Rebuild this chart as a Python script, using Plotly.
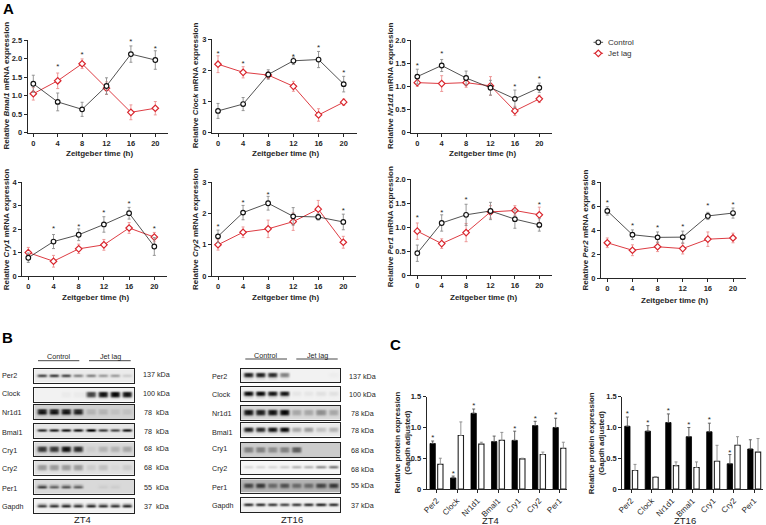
import plotly.graph_objects as go

W, H = 766, 525
FONT = "Liberation Sans"
INK = "#262626"
RED = "#d9262e"

# ---------- data: mRNA time courses ----------
zt = [0, 4, 8, 12, 16, 20]
zt_labels = ["0", "4", "8", "12", "16", "20"]

bmal1_ctrl = [1.32, 0.83, 0.63, 1.26, 2.12, 1.96]
bmal1_ctrl_err = [0.23, 0.24, 0.19, 0.22, 0.22, 0.25]
bmal1_jet = [1.05, 1.40, 1.86, 1.20, 0.55, 0.66]
bmal1_jet_err = [0.17, 0.21, 0.13, 0.17, 0.20, 0.18]
bmal1_star_x = [4, 8, 16, 20]
bmal1_star_y = [1.83, 2.15, 2.50, 2.30]

clock_ctrl = [0.70, 0.92, 1.87, 2.31, 2.35, 1.56]
clock_ctrl_err = [0.24, 0.21, 0.15, 0.12, 0.26, 0.25]
clock_jet = [2.20, 1.94, 1.85, 1.49, 0.57, 0.98]
clock_jet_err = [0.27, 0.18, 0.10, 0.16, 0.20, 0.10]
clock_star_x = [0, 4, 12, 16, 20]
clock_star_y = [2.58, 2.26, 2.50, 2.79, 1.96]

nr1d1_ctrl = [1.21, 1.45, 1.18, 0.97, 0.73, 0.97]
nr1d1_ctrl_err = [0.16, 0.13, 0.15, 0.16, 0.19, 0.10]
nr1d1_jet = [1.08, 1.06, 1.08, 1.01, 0.47, 0.73]
nr1d1_jet_err = [0.08, 0.17, 0.10, 0.20, 0.10, 0.08]
nr1d1_star_x = [0, 4, 16, 20]
nr1d1_star_y = [1.47, 1.73, 1.03, 1.19]

cry1_ctrl = [0.78, 1.47, 1.76, 2.20, 2.68, 1.26]
cry1_ctrl_err = [0.20, 0.30, 0.25, 0.33, 0.25, 0.38]
cry1_jet = [1.00, 0.63, 1.16, 1.33, 2.05, 1.66]
cry1_jet_err = [0.22, 0.25, 0.20, 0.23, 0.23, 0.20]
cry1_star_x = [4, 8, 12, 16, 20]
cry1_star_y = [2.08, 2.18, 2.75, 3.15, 2.08]

cry2_ctrl = [1.27, 2.03, 2.33, 1.91, 1.89, 1.73]
cry2_ctrl_err = [0.20, 0.23, 0.22, 0.28, 0.10, 0.25]
cry2_jet = [1.00, 1.40, 1.51, 1.74, 2.14, 1.08]
cry2_jet_err = [0.17, 0.17, 0.28, 0.28, 0.28, 0.19]
cry2_star_x = [0, 4, 8, 20]
cry2_star_y = [1.63, 2.38, 2.66, 2.15]

per1_ctrl = [0.46, 1.09, 1.26, 1.34, 1.17, 1.05]
per1_ctrl_err = [0.17, 0.17, 0.22, 0.18, 0.19, 0.13]
per1_jet = [0.92, 0.66, 0.89, 1.32, 1.35, 1.26]
per1_jet_err = [0.17, 0.10, 0.19, 0.13, 0.10, 0.16]
per1_star_x = [0, 4, 8, 20]
per1_star_y = [1.24, 1.33, 1.60, 1.51]

per2_ctrl = [5.60, 3.62, 3.40, 3.42, 5.18, 5.42]
per2_ctrl_err = [0.35, 0.40, 0.45, 0.50, 0.30, 0.42]
per2_jet = [2.95, 2.33, 2.62, 2.47, 3.25, 3.35]
per2_jet_err = [0.40, 0.45, 0.40, 0.45, 0.60, 0.40]
per2_star_x = [0, 4, 8, 12, 16, 20]
per2_star_y = [6.40, 4.50, 4.30, 4.40, 6.15, 6.23]

# ---------- data: protein bars ----------
proteins = ["Per2", "Clock", "Nr1d1", "Bmal1", "Cry1", "Cry2", "Per1"]

zt4_ctrl = [0.74, 0.18, 1.23, 0.77, 0.79, 1.03, 1.00]
zt4_ctrl_err = [0.04, 0.03, 0.07, 0.09, 0.15, 0.07, 0.15]
zt4_jet = [0.40, 0.87, 0.73, 0.79, 0.49, 0.56, 0.66]
zt4_jet_err = [0.10, 0.22, 0.03, 0.13, 0.01, 0.04, 0.10]
zt4_star_x = ["Per2", "Clock", "Nr1d1", "Cry1", "Cry2", "Per1"]
zt4_star_y = [0.85, 0.28, 1.38, 1.00, 1.17, 1.23]

zt16_ctrl = [1.02, 0.94, 1.08, 0.85, 0.93, 0.41, 0.65]
zt16_ctrl_err = [0.15, 0.09, 0.14, 0.15, 0.14, 0.15, 0.15]
zt16_jet = [0.30, 0.19, 0.38, 0.35, 0.45, 0.71, 0.60]
zt16_jet_err = [0.10, 0.01, 0.06, 0.09, 0.26, 0.14, 0.22]
zt16_star_x = ["Per2", "Clock", "Nr1d1", "Bmal1", "Cry1", "Cry2"]
zt16_star_y = [1.24, 1.10, 1.30, 1.07, 1.15, 0.62]

# ---------- data: western blots (band darkness per lane, background darkness) ----------
blot_names = ["Per2", "Clock", "Nr1d1", "Bmal1", "Cry1", "Cry2", "Per1", "Gapdh"]
kda_zt4 = ["137 kDa", "100 kDa", "78  kDa", "78  kDa", "68  kDa", "68  kDa", "55  kDa", "37  kDa"]
kda_zt16 = ["137 kDa", "100 kDa", "78 kDa", "78 kDa", "68 kDa", "68 kDa", "55 kDa", "37 kDa"]

zt4_per2 = [0.75, 0.80, 0.75, 0.50, 0.50, 0.40, 0.40, 0.20]
zt4_clock = [0.05, 0.05, 0.08, 0.08, 0.75, 0.95, 1.00, 0.95]
zt4_nr1d1 = [0.95, 0.95, 0.95, 0.90, 0.30, 0.30, 0.25, 0.25]
zt4_bmal1 = [0.80, 0.85, 0.90, 0.90, 1.00, 0.75, 0.70, 0.90]
zt4_cry1 = [0.80, 0.80, 0.95, 0.85, 0.20, 0.30, 0.30, 0.35]
zt4_cry2 = [0.40, 0.40, 0.40, 0.40, 0.20, 0.25, 0.15, 0.20]
zt4_per1 = [0.80, 0.65, 0.70, 0.65, 0.10, 0.20, 0.20, 0.02]
zt4_gapdh = [0.80, 0.85, 0.90, 0.85, 0.90, 0.85, 0.85, 0.90]
zt4_bg = [0.08, 0.05, 0.18, 0.10, 0.15, 0.12, 0.15, 0.05]

zt16_per2 = [0.90, 0.90, 0.85, 0.50, 0.05, 0.05, 0.05, 0.07]
zt16_clock = [1.00, 1.00, 0.95, 0.95, 0.10, 0.10, 0.12, 0.12]
zt16_nr1d1 = [0.95, 0.90, 0.95, 1.00, 0.35, 0.35, 0.45, 0.35]
zt16_bmal1 = [0.90, 0.85, 0.95, 1.00, 0.35, 0.40, 0.25, 0.30]
zt16_cry1 = [0.50, 0.50, 0.45, 0.50, 0.65, 0.20, 0.20, 0.20]
zt16_cry2 = [0.15, 0.15, 0.15, 0.20, 0.30, 0.30, 0.45, 0.55]
zt16_per1 = [0.75, 0.80, 0.60, 0.70, 0.60, 0.60, 0.75, 0.80]
zt16_gapdh = [0.85, 0.85, 0.80, 0.75, 0.80, 0.85, 0.90, 0.85]
zt16_bg = [0.05, 0.05, 0.15, 0.08, 0.20, 0.03, 0.30, 0.05]

# ---------- layout geometry (pixels) ----------
layout = dict(
    template="none",
    width=W, height=H, autosize=False, showlegend=False,
    margin=dict(l=0, r=0, t=0, b=0, pad=0, autoexpand=False),
    paper_bgcolor="white", plot_bgcolor="rgba(0,0,0,0)",
    barmode="group", bargap=0.252, bargroupgap=0.305,
    font=dict(family=FONT, color=INK, size=8),
)
annotations = []
traces = []
shapes = []
ax_id = [0]


def px(x, y):
    return x / W, 1 - y / H


def note(text, x, y, size=8, bold=False, angle=0, xanchor="center", color=INK):
    if bold:
        text = "<b>" + text.replace("<br>", "</b><br><b>") + "</b>"
    xp, yp = px(x, y)
    annotations.append(dict(
        text=text, x=xp, y=yp, xref="paper", yref="paper", showarrow=False,
        xanchor=xanchor, yanchor="middle", textangle=angle, borderpad=0, borderwidth=0,
        font=dict(family=FONT, size=size, color=color), align="center",
    ))


def new_axes(x0, x1, y_top, y_bottom, xaxis, yaxis):
    ax_id[0] += 1
    n = ax_id[0]
    xname = "xaxis" if n == 1 else f"xaxis{n}"
    yname = "yaxis" if n == 1 else f"yaxis{n}"
    xaxis = dict(xaxis, domain=[x0 / W, x1 / W], anchor="y" if n == 1 else f"y{n}", automargin=False)
    yaxis = dict(yaxis, domain=[1 - y_bottom / H, 1 - y_top / H], anchor="x" if n == 1 else f"x{n}", automargin=False)
    layout[xname] = xaxis
    layout[yname] = yaxis
    return ("x" if n == 1 else f"x{n}"), ("y" if n == 1 else f"y{n}")


AXIS = dict(showgrid=False, zeroline=False, showline=True, linecolor=INK, linewidth=1.1,
            ticks="outside", ticklen=3, tickwidth=1, tickcolor=INK,
            tickfont=dict(family=FONT, size=7.5, color=INK))


def bold_labels(labels):
    return [f"<b>{t}</b>" for t in labels]


def line_panel(ctrl, ctrl_err, jet, jet_err, star_x, star_y, gene, ymax, yticks, ylabels,
               ax_x, ax_end, tick0, tick20, y_zero, y_top, title_pos, ytitle_pos):
    per_h = (tick20 - tick0) / 20
    xr = [(ax_x - tick0) / per_h, (ax_end - tick0) / per_h]
    xa, ya = new_axes(
        ax_x, ax_end, y_top, y_zero,
        dict(AXIS, range=xr, tickvals=zt, ticktext=bold_labels(zt_labels)),
        dict(AXIS, range=[0, ymax], tickvals=yticks, ticktext=bold_labels(ylabels)),
    )
    traces.append(go.Scatter(
        x=zt, y=jet, mode="lines+markers", name="Jet lag", xaxis=xa, yaxis=ya, cliponaxis=False,
        line=dict(color=RED, width=0.9),
        marker=dict(symbol="diamond", size=5, color="white", line=dict(color=RED, width=1.2)),
        error_y=dict(type="data", array=jet_err, visible=True, color="#ec8f8f", thickness=0.9, width=1.5),
    ))
    traces.append(go.Scatter(
        x=zt, y=ctrl, mode="lines+markers", name="Control", xaxis=xa, yaxis=ya, cliponaxis=False,
        line=dict(color=INK, width=0.8),
        marker=dict(symbol="circle", size=4.6, color="white", line=dict(color="#111111", width=1.2)),
        error_y=dict(type="data", array=ctrl_err, visible=True, color="#8c8c8c", thickness=0.9, width=1.5),
    ))
    star_drop = 1.8 * ymax / (y_zero - y_top)  # the glyph sits high in its line box
    traces.append(go.Scatter(
        x=star_x, y=[v - star_drop for v in star_y], mode="text", text=["*"] * len(star_x),
        xaxis=xa, yaxis=ya, cliponaxis=False,
        textposition="middle center", textfont=dict(family=FONT, size=8, color=INK), name="",
    ))
    note(f"Relative <i>{gene}</i> mRNA expression", ytitle_pos[0], ytitle_pos[1], size=8, bold=True, angle=-90)
    note("Zeitgeber time (h)", title_pos[0], title_pos[1], size=8, bold=True)


line_panel(bmal1_ctrl, bmal1_ctrl_err, bmal1_jet, bmal1_jet_err, bmal1_star_x, bmal1_star_y, "Bmal1",
           2.5, [0, 0.5, 1, 1.5, 2, 2.5], ["0", "0.5", "1.0", "1.5", "2.0", "2.5"],
           27.7, 167.7, 33.3, 155.3, 132.7, 40, (99.3, 153.3), (5.5, 86))
line_panel(clock_ctrl, clock_ctrl_err, clock_jet, clock_jet_err, clock_star_x, clock_star_y, "Clock",
           3, [0, 1, 2, 3], ["0", "1", "2", "3"],
           212, 356.7, 218, 343.7, 132.7, 39.3, (285, 153.3), (195.7, 85.5))
line_panel(nr1d1_ctrl, nr1d1_ctrl_err, nr1d1_jet, nr1d1_jet_err, nr1d1_star_x, nr1d1_star_y, "Nr1d1",
           2, [0, 0.5, 1, 1.5, 2], ["0", "0.5", "1.0", "1.5", "2.0"],
           411.3, 551.7, 417.3, 539.3, 132.7, 40, (482.7, 153.3), (390, 86))
line_panel(cry1_ctrl, cry1_ctrl_err, cry1_jet, cry1_jet_err, cry1_star_x, cry1_star_y, "Cry1",
           4, [0, 1, 2, 3, 4], ["0", "1", "2", "3", "4"],
           22.3, 166.7, 28.3, 154.3, 276, 182.3, (96, 297.3), (6, 229.3))
line_panel(cry2_ctrl, cry2_ctrl_err, cry2_jet, cry2_jet_err, cry2_star_x, cry2_star_y, "Cry2",
           3, [0, 1, 2, 3], ["0", "1", "2", "3"],
           212, 356, 218, 343.3, 276, 182.3, (285, 297.3), (195.7, 229.3))
line_panel(per1_ctrl, per1_ctrl_err, per1_jet, per1_jet_err, per1_star_x, per1_star_y, "Per1",
           2, [0, 0.5, 1, 1.5, 2], ["0", "0.5", "1.0", "1.5", "2.0"],
           411.3, 551.7, 417.3, 539.3, 275.3, 179.3, (483.3, 297), (390, 227.3))
line_panel(per2_ctrl, per2_ctrl_err, per2_jet, per2_jet_err, per2_star_x, per2_star_y, "Per2",
           8, [0, 2, 4, 6, 8], ["0", "2", "4", "6", "8"],
           601, 745.7, 607.3, 733, 278.3, 182, (674.7, 300), (585.3, 230.3))


# ---------- legend ----------
def legend_row(name, symbol, color, y, size, lw, line_w):
    xa, ya = new_axes(593.3, 603.3, y - 4, y + 4,
                      dict(visible=False, range=[-1, 1]), dict(visible=False, range=[-1, 1]))
    traces.append(go.Scatter(
        x=[-1, 0, 1], y=[0, 0, 0], mode="lines", xaxis=xa, yaxis=ya, name=name, cliponaxis=False,
        line=dict(color=color, width=line_w),
    ))
    traces.append(go.Scatter(
        x=[0], y=[0], mode="markers", xaxis=xa, yaxis=ya, name=name, cliponaxis=False,
        marker=dict(symbol=symbol, size=size, color="white", line=dict(color=color, width=lw)),
    ))
    note(name, 608, y, size=8, xanchor="left", color="#333333")


legend_row("Control", "circle", INK, 42.3, 4.6, 1.2, 0.8)
legend_row("Jet lag", "diamond", RED, 53.3, 5, 1.2, 0.9)


# ---------- bars ----------
def bar_panel(ctrl, ctrl_err, jet, jet_err, star_x, star_y, title, ax_x, ax_end, first_center,
              ytitle_x, title_x):
    spacing = 20.5
    xr = [(ax_x - first_center) / spacing, (ax_end - first_center) / spacing]
    xa, ya = new_axes(
        ax_x, ax_end, 396.7, 489,
        dict(AXIS, type="category", categoryorder="array", categoryarray=proteins, range=xr,
             tickangle=-45, tickvals=proteins, ticktext=proteins,
             tickfont=dict(family=FONT, size=8, color=INK)),
        dict(AXIS, range=[0, 1.5], tickvals=[0, 0.5, 1, 1.5], ticktext=bold_labels(["0", "0.5", "1.0", "1.5"])),
    )
    traces.append(go.Bar(
        x=proteins, y=ctrl, xaxis=xa, yaxis=ya, name="Control", cliponaxis=False,
        marker=dict(color="#000000", line=dict(color="#000000", width=0.8)),
        error_y=dict(type="data", array=ctrl_err, arrayminus=[0] * 7, symmetric=False, visible=True,
                     color="#555555", thickness=0.9, width=1.5),
    ))
    traces.append(go.Bar(
        x=proteins, y=jet, xaxis=xa, yaxis=ya, name="Jet lag", cliponaxis=False,
        marker=dict(color="#ffffff", line=dict(color="#222222", width=1.1)),
        error_y=dict(type="data", array=jet_err, arrayminus=[0] * 7, symmetric=False, visible=True,
                     color="#888888", thickness=0.9, width=1.5),
    ))
    star_drop = 1.8 * 1.5 / (489 - 396.7)
    traces.append(go.Scatter(
        x=star_x, y=[v - star_drop for v in star_y], mode="text", text=["*\u00a0"] * len(star_x),
        xaxis=xa, yaxis=ya, cliponaxis=False,
        textposition="middle left", textfont=dict(family=FONT, size=8, color=INK), name="",
    ))
    note("Relative protein expression<br>(Gapdh adjusted)", ytitle_x, 443, size=7.8, bold=True, angle=-90)
    note(title, title_x, 520, size=9.5, color="#222222")


bar_panel(zt4_ctrl, zt4_ctrl_err, zt4_jet, zt4_jet_err, zt4_star_x, zt4_star_y, "ZT4",
          426.7, 566.7, 436.5, 401.5, 490)
bar_panel(zt16_ctrl, zt16_ctrl_err, zt16_jet, zt16_jet_err, zt16_star_x, zt16_star_y, "ZT16",
          622.3, 763.3, 631.2, 596.2, 685)

# ---------- blots ----------
THIN = [0, 0, 0, 0, 0.3, 1, 1, 0.3, 0, 0, 0, 0, 0]
THICK = [0, 0, 0, 0.3, 0.9, 1, 1, 0.8, 0.3, 0.1, 0, 0, 0]
LANE_COLS = [0.05, 0.9, 1, 0.9]


def blot(lanes, bg, thick, x0, x1, y_top, y_bottom):
    profile = THICK if thick else THIN
    z = []
    for p in profile:
        row = []
        for v in lanes:
            for c in LANE_COLS:
                row.append(bg + max(v - bg, 0) * p * c)
        row.append(bg)
        z.append(row)
    xa, ya = new_axes(
        x0, x1, y_top, y_bottom,
        dict(showgrid=False, zeroline=False, showline=True, mirror=True, linecolor="#222222", linewidth=1.2,
             ticks="", showticklabels=False),
        dict(showgrid=False, zeroline=False, showline=True, mirror=True, linecolor="#222222", linewidth=1.2,
             ticks="", showticklabels=False, autorange="reversed"),
    )
    traces.append(go.Heatmap(
        z=z, xaxis=xa, yaxis=ya, zmin=0, zmax=1, showscale=False, zsmooth="best",
        colorscale=[[0, "#ffffff"], [1, "#000000"]], hoverinfo="skip",
    ))


zt4_rows = [zt4_per2, zt4_clock, zt4_nr1d1, zt4_bmal1, zt4_cry1, zt4_cry2, zt4_per1, zt4_gapdh]
zt16_rows = [zt16_per2, zt16_clock, zt16_nr1d1, zt16_bmal1, zt16_cry1, zt16_cry2, zt16_per1, zt16_gapdh]
zt4_thick = [False, True, True, False, True, True, False, False]
zt16_thick = [True, True, True, True, True, False, True, False]

zt4_frames = [(133, 173), (188, 230), (240, 283), (297, 338), (352, 394), (407, 449), (464, 507), (521, 564)]
zt16_frames = [(131, 172), (187, 228), (242, 284), (295, 335), (354, 396), (407, 448), (463, 503), (520, 561)]
zt4_label_y = [151, 204, 262, 323, 377, 431, 489, 544]
zt4_kda_y = [149, 206, 263, 318, 371, 427, 488, 544]
zt16_label_y = [155, 207, 264, 323, 371, 430, 488, 541]
zt16_kda_y = [155, 208, 266, 317, 375, 432, 482, 542]

for i, name in enumerate(blot_names):
    t, b = zt4_frames[i]
    blot(zt4_rows[i], zt4_bg[i], zt4_thick[i], 34.3, 134.3, 325 + t / 3, 325 + b / 3)
    note(name, 2, 325 + zt4_label_y[i] / 3, size=7.2, xanchor="left")
    note(kda_zt4[i], 156, 325 + zt4_kda_y[i] / 3, size=7.2)
    t, b = zt16_frames[i]
    blot(zt16_rows[i], zt16_bg[i], zt16_thick[i], 240.7, 340.3, 325 + t / 3, 325 + b / 3)
    note(name, 211.7, 325 + zt16_label_y[i] / 3, size=7.2, xanchor="left")
    note(kda_zt16[i], 362.7, 325 + zt16_kda_y[i] / 3, size=7.2)

note("Control", 59, 356, size=7.2)
note("Jet lag", 110, 356, size=7.2)
note("Control", 265.7, 355, size=7.2)
note("Jet lag", 317.3, 355, size=7.2)
note("ZT4", 82.7, 519.7, size=9.5, color="#222222")
note("ZT16", 291.7, 519, size=9.5, color="#222222")

for a, b, y in [(38, 79.3, 360.7), (89, 130.7, 360.7), (245.3, 287, 359), (296.3, 337.7, 359)]:
    xa, ya = px(a, y)
    xb, _ = px(b, y)
    shapes.append(dict(type="line", xref="paper", yref="paper", x0=xa, x1=xb, y0=ya, y1=ya,
                       line=dict(color="#333333", width=0.9)))

# ---------- panel letters ----------
note("A", 3, 9, size=15, bold=True, xanchor="left", color="#000000")
note("B", 2, 337, size=15, bold=True, xanchor="left", color="#000000")
note("C", 390, 344, size=15, bold=True, xanchor="left", color="#000000")

layout["annotations"] = annotations
layout["shapes"] = shapes

fig = go.Figure(data=traces, layout=layout)
fig.write_html("out.html", config=dict(displayModeBar=False),
               post_script="document.body.style.margin='0';document.body.style.overflow='hidden';")
